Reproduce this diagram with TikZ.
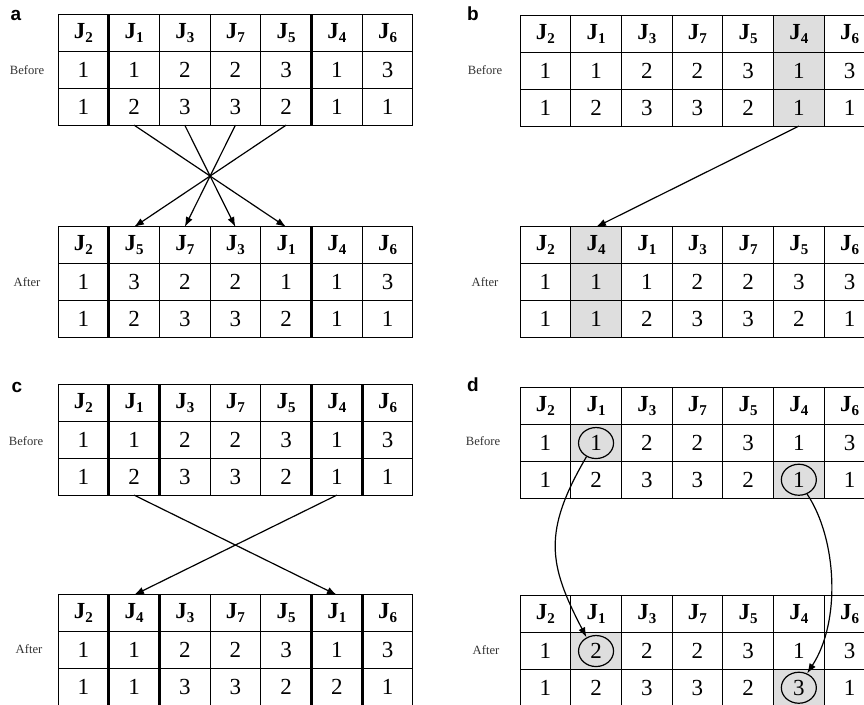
\documentclass[tikz,border=0pt]{standalone}
\usepackage{fontspec}
\setmainfont{Liberation Serif}
\newfontfamily\panelfont{Liberation Sans}
\usetikzlibrary{arrows.meta,shapes.geometric,backgrounds}

% Nhan cong viec J co chi so
\newcommand{\jh}[1]{\textbf{J}\raisebox{-2pt}{\fontsize{7.5}{7.5}\selectfont\textbf{#1}}}

% Bang 3 hang x 7 cot: ten, x trai, y tren, cong viec, hang 1, hang 2
\newcommand{\jobtable}[6]{%
  \foreach \jn [count=\col] in {#4}
    \node[cell] (#1-0-\col) at ({#2+(\col-0.5)*50.7}, {#3+18.35}) {\jh{\jn}};
  \foreach \val [count=\col] in {#5}
    \node[cell] (#1-1-\col) at ({#2+(\col-0.5)*50.7}, {#3+55.05}) {\val};
  \foreach \val [count=\col] in {#6}
    \node[cell] (#1-2-\col) at ({#2+(\col-0.5)*50.7}, {#3+91.75}) {\val};
}

\begin{document}
\begin{tikzpicture}[>={Latex[length=5pt,width=3.6pt]}, x=0.5pt, y=-0.5pt,
    cell/.style={draw, line width=0.5pt, outer sep=0pt, inner sep=0pt,
      minimum width=25.35pt, minimum height=18.35pt,
      font=\fontsize{11.5}{12}\selectfont},
    bar/.style={line width=1.6pt},
    graycell/.style={fill=black!13},
    ring/.style={ellipse, draw, line width=0.6pt, inner sep=0pt,
      minimum width=17.5pt, minimum height=15.5pt},
    link/.style={->, line width=0.6pt},
    panel/.style={font=\panelfont\bfseries\fontsize{9.5}{9.5}\selectfont},
    side/.style={font=\fontsize{6.3}{7}\selectfont, text=black!80}]
    \useasboundingbox (0,0) rectangle (864,705);

    % Nhan cac hinh a, b, c, d
    \node[panel] (pa) at (16,15) {a};
    \node[panel] (pb) at (473,14) {b};
    \node[panel] (pc) at (17,387) {c};
    \node[panel] (pd) at (473,385) {d};

    % Nhan Before / After
    \node[side] (sa1) at (27,70) {Before};
    \node[side] (sa2) at (27,282) {After};
    \node[side] (sb1) at (485,70) {Before};
    \node[side] (sb2) at (485,282) {After};
    \node[side] (sc1) at (26,441) {Before};
    \node[side] (sc2) at (29,649) {After};
    \node[side] (sd1) at (483,441) {Before};
    \node[side] (sd2) at (486,650) {After};

    % Hinh a
    \jobtable{aB}{58}{15}{2,1,3,7,5,4,6}{1,1,2,2,3,1,3}{1,2,3,3,2,1,1}
    \jobtable{aA}{58}{227}{2,5,7,3,1,4,6}{1,3,2,2,1,1,3}{1,2,3,3,2,1,1}
    \foreach \tb in {aB,aA} {
      \draw[bar] (\tb-0-1.north east) -- (\tb-2-1.south east);
      \draw[bar] (\tb-0-5.north east) -- (\tb-2-5.south east);
    }
    \draw[link] (aB-2-2.south) -- (aA-0-5.north);
    \draw[link] (aB-2-3.south) -- (aA-0-4.north);
    \draw[link] (aB-2-4.south) -- (aA-0-3.north);
    \draw[link] (aB-2-5.south) -- (aA-0-2.north);

    % Hinh b
    \jobtable{bB}{520}{16}{2,1,3,7,5,4,6}{1,1,2,2,3,1,3}{1,2,3,3,2,1,1}
    \jobtable{bA}{520}{227}{2,4,1,3,7,5,6}{1,1,1,2,2,3,3}{1,1,2,3,3,2,1}
    \begin{scope}[on background layer]
      \fill[graycell] (bB-0-6.north west) rectangle (bB-2-6.south east);
      \fill[graycell] (bA-0-2.north west) rectangle (bA-2-2.south east);
    \end{scope}
    \draw[link] (bB-2-6.south) -- (bA-0-2.north);

    % Hinh c
    \jobtable{cB}{58}{385}{2,1,3,7,5,4,6}{1,1,2,2,3,1,3}{1,2,3,3,2,1,1}
    \jobtable{cA}{58}{595}{2,4,3,7,5,1,6}{1,1,2,2,3,1,3}{1,1,3,3,2,2,1}
    \foreach \tb in {cB,cA} {
      \foreach \k in {1,2,5,6}
        \draw[bar] (\tb-0-\k.north east) -- (\tb-2-\k.south east);
    }
    \draw[link] (cB-2-2.south) -- (cA-0-6.north);
    \draw[link] (cB-2-6.south) -- (cA-0-2.north);

    % Hinh d
    \jobtable{dB}{520}{388}{2,1,3,7,5,4,6}{1,1,2,2,3,1,3}{1,2,3,3,2,1,1}
    \jobtable{dA}{520}{596}{2,1,3,7,5,4,6}{1,2,2,2,3,1,3}{1,2,3,3,2,3,1}
    \begin{scope}[on background layer]
      \fill[graycell] (dB-1-2.north west) rectangle (dB-1-2.south east);
      \fill[graycell] (dB-2-6.north west) rectangle (dB-2-6.south east);
      \fill[graycell] (dA-1-2.north west) rectangle (dA-1-2.south east);
      \fill[graycell] (dA-2-6.north west) rectangle (dA-2-6.south east);
    \end{scope}
    \node[ring] (d1) at (dB-1-2) {};
    \node[ring] (d2) at (dB-2-6) {};
    \node[ring] (d3) at (dA-1-2) {};
    \node[ring] (d4) at (dA-2-6) {};
    \draw[link] (d1.235) .. controls +(-44,75) and +(-38,-73) .. (d3.125);
    \draw[link] (d2.300) .. controls +(30,45) and +(34,-52) .. (d4.60);
\end{tikzpicture}
\end{document}
